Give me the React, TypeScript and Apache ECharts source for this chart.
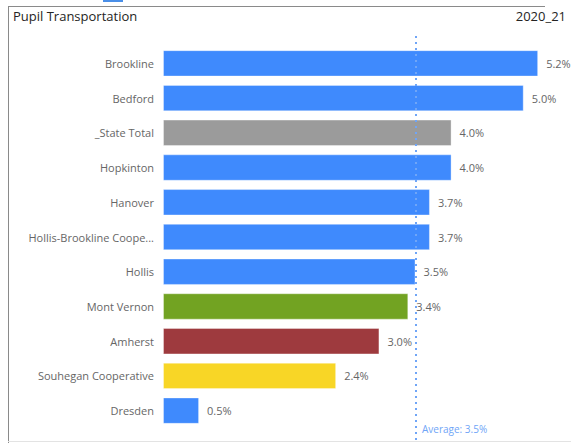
import React, { useEffect, useRef } from "react";
import * as echarts from "echarts";

const categories = [
  "Brookline",
  "Bedford",
  "_State Total",
  "Hopkinton",
  "Hanover",
  "Hollis-Brookline Coope...",
  "Hollis",
  "Mont Vernon",
  "Amherst",
  "Souhegan Cooperative",
  "Dresden",
];
const values = [5.2, 5.0, 4.0, 4.0, 3.7, 3.7, 3.5, 3.4, 3.0, 2.4, 0.5];
const barColors = [
  "#3F8AFD",
  "#3F8AFD",
  "#9B9B9B",
  "#3F8AFD",
  "#3F8AFD",
  "#3F8AFD",
  "#3F8AFD",
  "#72A322",
  "#9E3A3E",
  "#F8D626",
  "#3F8AFD",
];
const averageValue = 3.5;
const title = "Pupil Transportation";
const yearLabel = "2020_21";

const FONT = "'Open Sans', 'Noto Sans', sans-serif";

export default function App() {
  const ref = useRef<HTMLDivElement>(null);
  useEffect(() => {
    if (!ref.current) return;
    const chart = echarts.init(ref.current, null, { renderer: "svg" });
    const xMax = 5.6;
    chart.setOption({
      animation: false,
      backgroundColor: "#ffffff",
      grid: [
        { left: 163, width: 404, top: 46, height: 382, containLabel: false },
        { left: 163, width: 404, top: 34, height: 406, containLabel: false },
      ],
      xAxis: [
        { type: "value", gridIndex: 0, min: 0, max: xMax, show: false },
        { type: "value", gridIndex: 1, min: 0, max: xMax, show: false },
      ],
      yAxis: [
        {
          type: "category",
          gridIndex: 0,
          data: categories,
          inverse: true,
          axisLine: { show: false },
          axisTick: { show: false },
          splitLine: { show: false },
          axisLabel: {
            color: "#666666",
            fontSize: 11,
            fontFamily: FONT,
            margin: 9,
          },
        },
        { type: "value", gridIndex: 1, min: 0, max: 1, show: false },
      ],
      series: [
        {
          type: "bar",
          xAxisIndex: 0,
          yAxisIndex: 0,
          barCategoryGap: "24%",
          data: values.map((v, i) => ({
            value: v,
            itemStyle: {
              color: barColors[i],
              borderColor: "rgba(255,255,255,0.35)",
              borderWidth: 1,
            },
          })),
          label: {
            show: true,
            position: "right",
            distance: 8,
            color: "#666666",
            fontSize: 11,
            fontFamily: FONT,
            formatter: (p: any) => p.value.toFixed(1) + "%",
          },
        },
        {
          type: "line",
          xAxisIndex: 1,
          yAxisIndex: 1,
          data: [],
          z: 5,
          markLine: {
            silent: true,
            symbol: ["none", "none"],
            label: { show: false },
            lineStyle: {
              color: "#6FA5F7",
              type: [2, 4],
              width: 2,
            },
            data: [
              [
                { coord: [averageValue, 0] },
                { coord: [averageValue, 1] },
              ],
            ],
          },
        },
      ],
      graphic: [
        {
          type: "line",
          shape: { x1: 8.5, y1: 6, x2: 8.5, y2: 443 },
          style: { stroke: "#8a8a8a", lineWidth: 1 },
        },
        {
          type: "line",
          shape: { x1: 8, y1: 6.5, x2: 545, y2: 6.5 },
          style: { stroke: "#8a8a8a", lineWidth: 1 },
        },
        {
          type: "line",
          shape: { x1: 8, y1: 441.5, x2: 571, y2: 441.5 },
          style: { stroke: "#e3e3e3", lineWidth: 1 },
        },
        {
          type: "line",
          shape: { x1: 103, y1: 1, x2: 123, y2: 1 },
          style: { stroke: "#4A8FE8", lineWidth: 2 },
        },
        {
          type: "text",
          x: 13,
          y: 16,
          style: {
            text: title,
            fill: "#252423",
            font: `13px ${FONT}`,
            textVerticalAlign: "middle",
          },
        },
        {
          type: "text",
          x: 566,
          y: 16,
          style: {
            text: yearLabel,
            fill: "#252423",
            font: `13px ${FONT}`,
            textAlign: "right",
            textVerticalAlign: "middle",
          },
        },
        {
          type: "text",
          x: 422,
          y: 429,
          style: {
            text: "Average: " + averageValue.toFixed(1) + "%",
            fill: "#6FA5F7",
            font: `10px ${FONT}`,
            textVerticalAlign: "middle",
          },
        },
      ],
    });
    return () => chart.dispose();
  }, []);
  return (
    <div
      ref={ref}
      style={{ position: "fixed", left: 0, top: 0, width: 571, height: 443 }}
    />
  );
}
